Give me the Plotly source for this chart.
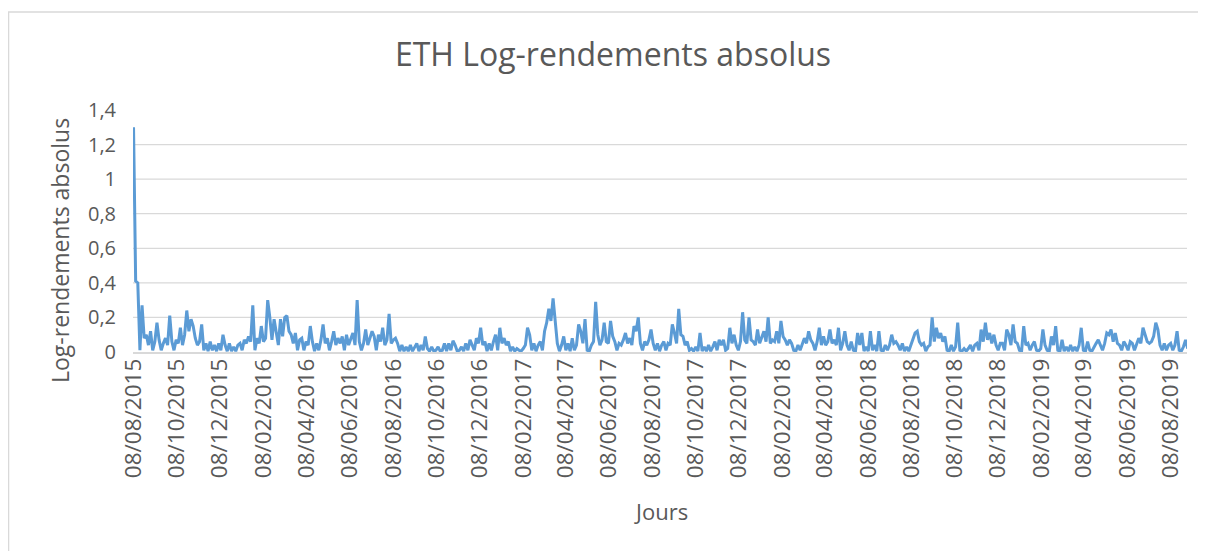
import pandas as pd
import plotly.graph_objects as go

# Absolute ETH log-returns (one reading every 3 days from 08/08/2015)
abs_logret_2015 = [
    1.30, 0.41, 0.40, 0.01, 0.27, 0.08, 0.10, 0.04, 0.12, 0.01,
    0.06, 0.17, 0.07, 0.01, 0.05, 0.08, 0.04, 0.21, 0.06, 0.01,
    0.07, 0.05, 0.14, 0.04, 0.10, 0.24, 0.12, 0.19, 0.15, 0.08,
    0.04, 0.06, 0.16, 0.01, 0.05, 0.005, 0.06, 0.01, 0.04, 0.005,
    0.05, 0.01, 0.10, 0.04, 0.005, 0.05, 0.005, 0.03, 0.005,
]
abs_logret_2016 = [
    0.04,
    0.05, 0.01, 0.07, 0.05, 0.09, 0.06, 0.27, 0.01, 0.08, 0.05,
    0.15, 0.06, 0.08, 0.30, 0.20, 0.07, 0.19, 0.10, 0.04, 0.19,
    0.09, 0.20, 0.21, 0.12, 0.10, 0.05, 0.11, 0.01, 0.07, 0.08,
    0.01, 0.06, 0.04, 0.15, 0.06, 0.005, 0.05, 0.01, 0.07, 0.16,
    0.05, 0.08, 0.01, 0.06, 0.12, 0.04, 0.08, 0.05, 0.09, 0.01,
    0.10, 0.04, 0.07, 0.11, 0.04, 0.30, 0.06, 0.01, 0.05, 0.13,
    0.04, 0.08, 0.12, 0.09, 0.01, 0.10, 0.06, 0.14, 0.04, 0.07,
    0.22, 0.05, 0.07, 0.08, 0.05, 0.005, 0.04, 0.005, 0.03, 0.005,
    0.04, 0.005, 0.03, 0.05, 0.005, 0.04, 0.01, 0.09, 0.02, 0.005,
    0.03, 0.005, 0.01, 0.03, 0.005, 0.01, 0.05, 0.005, 0.05, 0.01,
    0.065, 0.04, 0.005, 0.01, 0.03, 0.005, 0.05, 0.01, 0.07, 0.04,
    0.01, 0.08, 0.05, 0.14, 0.04, 0.06, 0.005, 0.05, 0.01, 0.06,
    0.10,
]
abs_logret_2017 = [
    0.01, 0.14, 0.05, 0.08, 0.04, 0.06, 0.005, 0.03, 0.005,
    0.02, 0.01, 0.005, 0.02, 0.04, 0.14, 0.10, 0.01, 0.05, 0.005,
    0.04, 0.06, 0.01, 0.12, 0.17, 0.25, 0.18, 0.31, 0.19, 0.05,
    0.005, 0.04, 0.09, 0.01, 0.05, 0.005, 0.08, 0.01, 0.04, 0.16,
    0.12, 0.05, 0.19, 0.01, 0.005, 0.04, 0.06, 0.29, 0.10, 0.04,
    0.07, 0.17, 0.06, 0.05, 0.18, 0.09, 0.06, 0.01, 0.05, 0.04,
    0.07, 0.11, 0.05, 0.08, 0.04, 0.15, 0.12, 0.20, 0.05, 0.01,
    0.06, 0.04, 0.07, 0.13, 0.05, 0.01, 0.05, 0.005, 0.04, 0.06,
    0.01, 0.05, 0.04, 0.16, 0.11, 0.05, 0.25, 0.10, 0.09, 0.04,
    0.06, 0.01, 0.02, 0.005, 0.03, 0.005, 0.11, 0.005, 0.03, 0.005,
    0.04, 0.005, 0.03, 0.06, 0.01, 0.07, 0.04, 0.07, 0.01, 0.02,
    0.14, 0.05, 0.10, 0.04, 0.01, 0.06, 0.23, 0.07, 0.05, 0.20,
    0.07, 0.06, 0.04,
]
abs_logret_2018 = [
    0.13, 0.05, 0.08, 0.12, 0.06, 0.20, 0.05,
    0.07, 0.06, 0.12, 0.05, 0.18, 0.09, 0.07, 0.04, 0.07, 0.05,
    0.01, 0.005, 0.04, 0.01, 0.05, 0.08, 0.05, 0.12, 0.07, 0.05,
    0.01, 0.06, 0.14, 0.04, 0.09, 0.04, 0.06, 0.13, 0.05, 0.07,
    0.04, 0.14, 0.01, 0.05, 0.12, 0.04, 0.01, 0.06, 0.01, 0.005,
    0.11, 0.04, 0.11, 0.005, 0.03, 0.005, 0.12, 0.01, 0.04, 0.005,
    0.12, 0.01, 0.005, 0.04, 0.01, 0.04, 0.10, 0.05, 0.06, 0.04,
    0.01, 0.05, 0.005, 0.03, 0.005, 0.04, 0.07, 0.11, 0.12, 0.06,
    0.04, 0.05, 0.005, 0.03, 0.04, 0.20, 0.06, 0.14, 0.08, 0.11,
    0.06, 0.09, 0.01, 0.005, 0.04, 0.005, 0.03, 0.17, 0.01, 0.005,
    0.02, 0.005, 0.02, 0.04, 0.005, 0.04, 0.05, 0.01, 0.13, 0.06,
    0.17, 0.07, 0.11, 0.05, 0.10, 0.04, 0.01, 0.05, 0.05, 0.01,
    0.13, 0.10, 0.04, 0.16,
]
abs_logret_2019 = [
    0.06, 0.05, 0.01, 0.005, 0.15, 0.04,
    0.05, 0.01, 0.04, 0.06, 0.01, 0.005, 0.02, 0.13, 0.04, 0.01,
    0.005, 0.09, 0.04, 0.15, 0.01, 0.005, 0.07, 0.005, 0.03, 0.005,
    0.04, 0.005, 0.03, 0.005, 0.04, 0.14, 0.01, 0.005, 0.06, 0.01,
    0.005, 0.03, 0.05, 0.07, 0.04, 0.01, 0.05, 0.11, 0.10, 0.13,
    0.06, 0.11, 0.05, 0.04, 0.01, 0.06, 0.04, 0.01, 0.06, 0.05,
    0.01, 0.04, 0.08, 0.05, 0.14, 0.10, 0.06, 0.05, 0.06, 0.09,
    0.17, 0.13, 0.04, 0.01, 0.05, 0.01, 0.04, 0.05, 0.01, 0.04,
    0.12, 0.01, 0.005, 0.03, 0.07, 0.02,
]

x_tick_labels = [
    "08/08/2015", "08/10/2015", "08/12/2015", "08/02/2016", "08/04/2016",
    "08/06/2016", "08/08/2016", "08/10/2016", "08/12/2016", "08/02/2017",
    "08/04/2017", "08/06/2017", "08/08/2017", "08/10/2017", "08/12/2017",
    "08/02/2018", "08/04/2018", "08/06/2018", "08/08/2018", "08/10/2018",
    "08/12/2018", "08/02/2019", "08/04/2019", "08/06/2019", "08/08/2019",
]
y_tick_values = [0, 0.2, 0.4, 0.6, 0.8, 1.0, 1.2, 1.4]
y_tick_labels = ["0", "0,2", "0,4", "0,6", "0,8", "1", "1,2", "1,4"]
grid_values = [0.2, 0.4, 0.6, 0.8, 1.0, 1.2]

values = abs_logret_2015 + abs_logret_2016 + abs_logret_2017 + abs_logret_2018 + abs_logret_2019
dates = pd.date_range("2015-08-08", periods=len(values), freq="3D")
tick_dates = pd.to_datetime(x_tick_labels, format="%d/%m/%Y")

TEXT = "#595959"
GRID = "#D9D9D9"
FONT = "Open Sans"

W, H = 1198, 543  # page body has an 8px margin

fig = go.Figure()
fig.add_trace(go.Scatter(
    x=dates, y=values, mode="lines",
    line=dict(color="#5B9BD5", width=3),
    hoverinfo="x+y",
))

shapes = []
for g in grid_values:
    shapes.append(dict(type="line", xref="paper", yref="y", x0=0, x1=1, y0=g, y1=g,
                       line=dict(color=GRID, width=1.3), layer="below"))
# chart area border
shapes.append(dict(type="rect", xref="paper", yref="paper", x0=-0.1181, x1=1.03,
                   y0=-0.9, y1=1.405, line=dict(color=GRID, width=1.5), layer="below"))

fig.update_layout(
    width=W, height=H,
    margin=dict(l=125, r=19, t=102, b=199),
    paper_bgcolor="white", plot_bgcolor="white",
    showlegend=False,
    font=dict(family=FONT, color=TEXT),
    title=dict(text="ETH Log-rendements absolus", x=605 / W, xref="container", xanchor="center",
               y=1 - 47 / H, yref="container", yanchor="middle",
               font=dict(family=FONT, size=32, color=TEXT)),
    shapes=shapes,
    xaxis=dict(
        type="date",
        range=[pd.Timestamp("2015-08-07 06:00"), pd.Timestamp("2019-08-31")],
        tickmode="array", tickvals=tick_dates, ticktext=x_tick_labels,
        tickangle=-90, tickfont=dict(family=FONT, size=22.5, color=TEXT),
        showgrid=False, zeroline=False,
        showline=True, linecolor=GRID, linewidth=1.5,
        ticks="", ticklabelstandoff=-4,
    ),
    yaxis=dict(
        range=[0, 1.4],
        tickmode="array", tickvals=y_tick_values, ticktext=y_tick_labels,
        tickfont=dict(family=FONT, size=20, color=TEXT),
        showgrid=False, zeroline=False, showline=False,
        ticks="", ticklabelstandoff=16,
    ),
    annotations=[
        dict(text="Log-rendements absolus", xref="paper", yref="paper",
             x=(60 - 133) / 1054, y=(352 - 251) / 242, textangle=-90,
             showarrow=False, xanchor="center", yanchor="middle",
             font=dict(family=FONT, size=23, color=TEXT)),
        dict(text="Jours", xref="paper", yref="paper",
             x=(661 - 133) / 1054, y=(352 - 511) / 242,
             showarrow=False, xanchor="center", yanchor="middle",
             font=dict(family=FONT, size=22, color=TEXT)),
    ],
)

fig.write_html("out.html")
